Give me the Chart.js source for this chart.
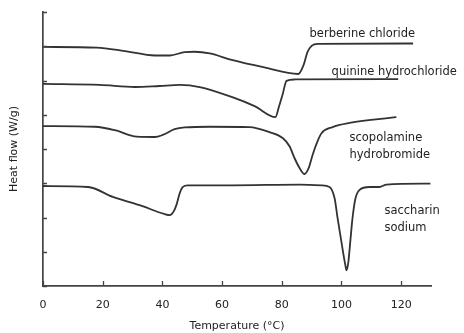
<!DOCTYPE html>
<html>
<head>
<meta charset="utf-8">
<script src="https://cdn.jsdelivr.net/npm/chart.js@4.4.1/dist/chart.umd.min.js"></script>
<style>
  html, body { margin: 0; padding: 0; background: #ffffff; }
  #wrap { width: 464px; height: 333px; }
</style>
</head>
<body>
<div id="wrap"><canvas id="dsc" width="464" height="333"></canvas></div>
<script>
// DSC thermograms, traces stacked with a vertical offset (heat flow, W/g)
const berberineT  = [0, 18, 27.4, 37.5, 42.5, 47.5, 50.8, 55.9, 63.2, 74.2, 85.5, 87.3, 88.6, 90, 92, 124];
const berberineHF = [6.98, 6.96, 6.86, 6.73, 6.73, 6.83, 6.84, 6.79, 6.60, 6.38, 6.19, 6.45, 6.83, 7.01, 7.07, 7.08];

const quinineT  = [0, 19, 30.8, 39, 45.8, 52.5, 63.2, 70.9, 77.9, 79, 80.3, 81.6, 84.3, 119];
const quinineHF = [5.90, 5.87, 5.81, 5.84, 5.87, 5.81, 5.52, 5.25, 4.93, 5.22, 5.60, 5.99, 6.03, 6.04];

const scopolamineT  = [0, 17.4, 24.1, 31.4, 37.5, 40.1, 44.1, 47.5, 55.9, 69.2, 75.9, 80.3, 82.6, 84.3, 86, 87.6, 89, 90.3, 92, 93.3, 97, 102.7, 118.4];
const scopolamineHF = [4.67, 4.65, 4.55, 4.36, 4.35, 4.41, 4.58, 4.63, 4.65, 4.64, 4.49, 4.32, 4.08, 3.73, 3.44, 3.27, 3.44, 3.82, 4.23, 4.46, 4.64, 4.76, 4.93];

const saccharinT  = [0, 15.1, 23.4, 32.4, 40.8, 42.5, 43.8, 44.8, 45.8, 46.8, 48.5, 63.2, 86, 93.3, 96, 97.7, 98.7, 100, 101.3, 101.7, 102.3, 103, 103.7, 104.7, 106, 109.4, 112.7, 115.1, 129.8];
const saccharinHF = [2.92, 2.89, 2.60, 2.36, 2.10, 2.07, 2.18, 2.39, 2.71, 2.89, 2.94, 2.94, 2.96, 2.94, 2.89, 2.56, 1.98, 1.28, 0.61, 0.46, 0.69, 1.34, 1.98, 2.56, 2.80, 2.89, 2.89, 2.96, 2.99];

const seriesNames = [
  ['berberine chloride'],
  ['quinine hydrochloride'],
  ['scopolamine', 'hydrobromide'],
  ['saccharin', 'sodium']
];

const xTickStep = 20;
const xMax = 130;
const yMax = 8;

// where each trace name sits, in axis units (left edge, first line centre)
const nameAnchors = [
  { t: 89.3, hf: 7.36 },
  { t: 96.7, hf: 6.26 },
  { t: 102.7, hf: 4.32 },
  { t: 114.4, hf: 2.18 }
];

const ink = '#333333';
const textInk = '#222222';
const font = 'DejaVu Sans';

function pairs(xs, ys) { return xs.map((x, i) => ({ x: x, y: ys[i] })); }

const traces = [
  pairs(berberineT, berberineHF),
  pairs(quinineT, quinineHF),
  pairs(scopolamineT, scopolamineHF),
  pairs(saccharinT, saccharinHF)
];

// short tick marks pointing into the plot
const innerTicks = {
  id: 'innerTicks',
  afterDraw(chart) {
    const { ctx, scales: { x, y }, chartArea } = chart;
    ctx.save();
    ctx.strokeStyle = '#444444';
    ctx.lineWidth = 1.3;
    ctx.beginPath();
    x.ticks.forEach(tk => {
      const px = Math.round(x.getPixelForValue(tk.value)) + 0.5;
      ctx.moveTo(px, chartArea.bottom);
      ctx.lineTo(px, chartArea.bottom - 5);
    });
    y.ticks.forEach(tk => {
      const py = Math.round(y.getPixelForValue(tk.value)) + 0.5;
      ctx.moveTo(chartArea.left, py);
      ctx.lineTo(chartArea.left + 4, py);
    });
    ctx.stroke();
    ctx.restore();
  }
};

// trace names beside each curve
const traceNames = {
  id: 'traceNames',
  afterDraw(chart) {
    const { ctx, scales: { x, y } } = chart;
    ctx.save();
    ctx.fillStyle = textInk;
    ctx.font = '11.5px "' + font + '"';
    ctx.textAlign = 'left';
    ctx.textBaseline = 'middle';
    seriesNames.forEach((lines, i) => {
      const a = nameAnchors[i];
      const px = x.getPixelForValue(a.t);
      const py = y.getPixelForValue(a.hf);
      lines.forEach((s, j) => ctx.fillText(s, px, py + j * 16.5));
    });
    ctx.restore();
  }
};

new Chart(document.getElementById('dsc'), {
  type: 'line',
  data: {
    datasets: traces.map((pts, i) => ({
      label: seriesNames[i].join(' '),
      data: pts,
      borderColor: ink,
      borderWidth: 1.8,
      pointRadius: 0,
      fill: false,
      cubicInterpolationMode: 'monotone'
    }))
  },
  options: {
    responsive: false,
    animation: false,
    devicePixelRatio: 1,
    layout: { padding: { top: 12, right: 33, left: 0, bottom: 0 } },
    plugins: { legend: { display: false }, tooltip: { enabled: false } },
    scales: {
      x: {
        type: 'linear',
        min: 0,
        max: xMax,
        grid: { display: false, drawTicks: false },
        border: { display: true, color: '#444444', width: 1.7 },
        ticks: {
          stepSize: xTickStep,
          includeBounds: false,
          maxRotation: 0,
          padding: 13,
          color: textInk,
          font: { family: font, size: 11 }
        },
        title: {
          display: true,
          text: 'Temperature (°C)',
          color: textInk,
          font: { family: font, size: 11 },
          padding: { top: 0, bottom: 0 }
        },
        afterFit(scale) { scale.height = 47; }
      },
      y: {
        type: 'linear',
        min: 0,
        max: yMax,
        grid: { display: false, drawTicks: false },
        border: { display: true, color: '#444444', width: 1.7 },
        ticks: { stepSize: 1, display: false },
        title: {
          display: true,
          text: 'Heat flow (W/g)',
          color: textInk,
          font: { family: font, size: 11 },
          padding: { top: 8, bottom: 0 }
        },
        afterFit(scale) { scale.width = 43; }
      }
    }
  },
  plugins: [innerTicks, traceNames]
});
</script>
</body>
</html>
